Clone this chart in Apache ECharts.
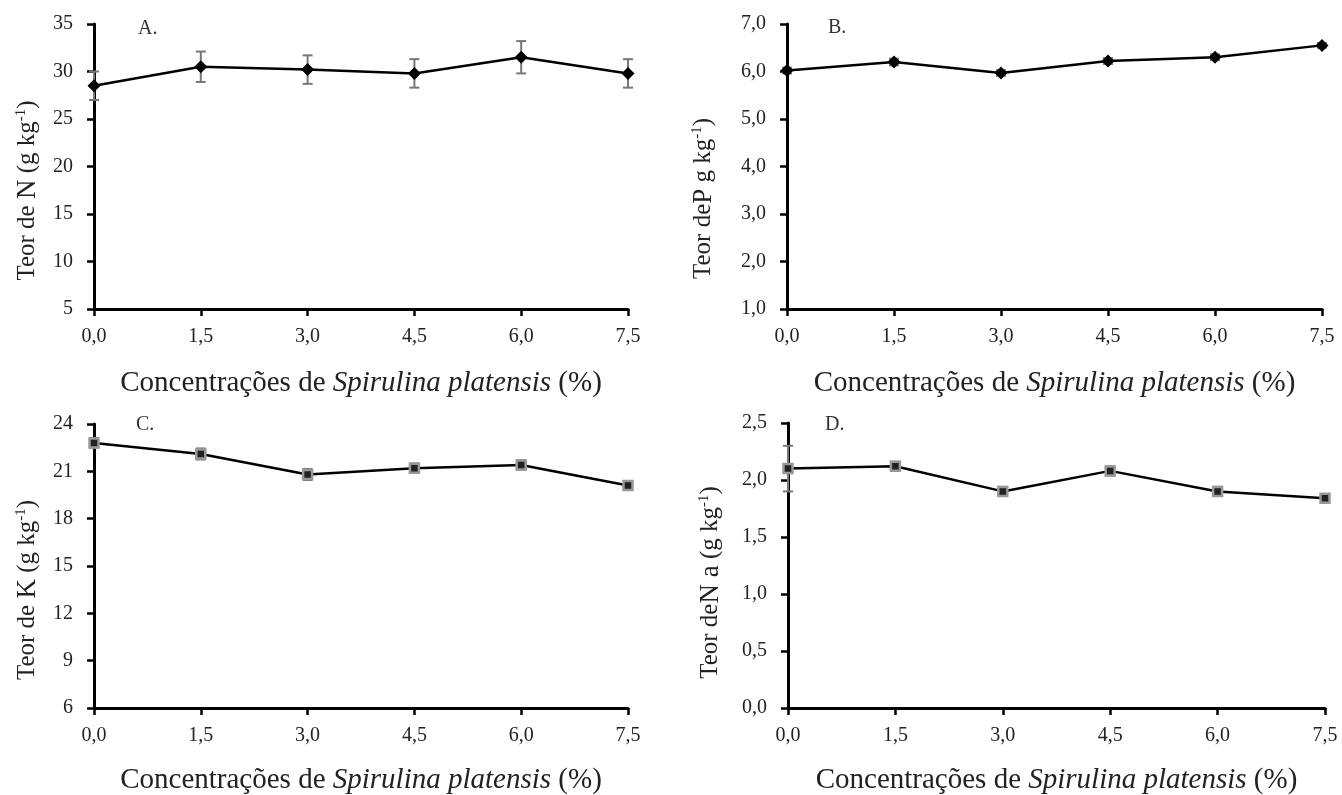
<!DOCTYPE html>
<html>
<head>
<meta charset="utf-8">
<script src="https://cdn.jsdelivr.net/npm/echarts@6/dist/echarts.min.js"></script>
<style>
  html, body { margin: 0; padding: 0; background: #fff; }
  #chart { width: 1342px; height: 795px; }
</style>
</head>
<body>
<div id="chart"></div>
<script>
// concentrações de Spirulina platensis (%)
const doses = [0, 1.5, 3.0, 4.5, 6.0, 7.5];

// teores (g kg-1)
const teorN = [28.5, 30.5, 30.2, 29.8, 31.5, 29.8];
const erroN = [1.5, 1.6, 1.5, 1.5, 1.7, 1.5];
const teorP = [6.02, 6.2, 5.97, 6.22, 6.3, 6.55];
const erroP = [0.06, 0.07, 0.06, 0.06, 0.06, 0.05];
const teorK = [22.8, 22.1, 20.8, 21.2, 21.4, 20.1];
const erroK = [0.3, 0.35, 0.35, 0.3, 0.3, 0.2];
const teorNa = [2.1, 2.12, 1.9, 2.08, 1.9, 1.84];
const erroNa = [0.2, 0.04, 0.04, 0.04, 0.04, 0.03];

const letras = ['A.', 'B.', 'C.', 'D.'];

const fonte = 'Liberation Serif, Times New Roman, serif';
const corTexto = '#222';

const chart = echarts.init(document.getElementById('chart'));

const virgula = (v) => v.toFixed(1).replace('.', ',');

// posição de cada painel (sem reajuste automático do v6)
const grids = [
  { left: 94, top: 24, width: 534, height: 285, outerBoundsMode: 'none' },
  { left: 787, top: 24, width: 535, height: 285, outerBoundsMode: 'none' },
  { left: 94, top: 424, width: 534, height: 284, outerBoundsMode: 'none' },
  { left: 788, top: 423, width: 537, height: 285, outerBoundsMode: 'none' },
];

const eixoY = [
  { min: 5, max: 35, interval: 5, fmt: (v) => String(v), nome: ['Teor de ', 'N', ' (g kg', ')'], gap: 53, desloc: 48 },
  { min: 1, max: 7, interval: 1, fmt: virgula, nome: ['Teor de', 'P', ' g kg', ')'], gap: 70, desloc: 64 },
  { min: 6, max: 24, interval: 3, fmt: (v) => String(v), nome: ['Teor de ', 'K', ' (g kg', ')'], gap: 53, desloc: 48 },
  { min: 0, max: 2.5, interval: 0.5, fmt: virgula, nome: ['Teor de', 'N a', ' (g kg', ')'], gap: 64, desloc: 34 },
];

const valores = [teorN, teorP, teorK, teorNa];
const erros = [erroN, erroP, erroK, erroNa];

const nomeX = '{n|Concentrações de }{i|Spirulina platensis}{n| (%)}';
const richX = {
  n: { fontFamily: fonte, fontSize: 29, color: corTexto },
  i: { fontFamily: fonte, fontSize: 29, color: corTexto, fontStyle: 'italic' },
};
const richY = {
  t: { fontFamily: fonte, fontSize: 25, color: corTexto },
  b: { fontFamily: fonte, fontSize: 27, color: corTexto },
  s: { fontFamily: fonte, fontSize: 15, color: corTexto, verticalAlign: 'top' },
};

const eixoLinha = { lineStyle: { color: '#000', width: 3 } };
const eixoTick = { show: true, length: 7, lineStyle: { color: '#000', width: 2.5 } };

const xAxis = grids.map((g, i) => ({
  type: 'value',
  gridIndex: i,
  min: 0,
  max: 7.5,
  interval: 1.5,
  axisLine: eixoLinha,
  axisTick: eixoTick,
  splitLine: { show: false },
  axisLabel: { formatter: virgula, fontFamily: fonte, fontSize: 20, color: corTexto, margin: 18 },
  name: nomeX,
  nameLocation: 'middle',
  nameGap: i < 2 ? 60 : 58,
  nameTextStyle: { rich: richX },
}));

const yAxis = eixoY.map((e, i) => ({
  type: 'value',
  gridIndex: i,
  min: e.min,
  max: e.max,
  interval: e.interval,
  axisLine: eixoLinha,
  axisTick: eixoTick,
  splitLine: { show: false },
  axisLabel: { formatter: e.fmt, fontFamily: fonte, fontSize: 20, color: corTexto, margin: 21 },
  name: '{t|' + e.nome[0] + '}{b|' + e.nome[1] + '}{t|' + e.nome[2] + '}{s|-1}{t|' + e.nome[3] + '}',
  nameLocation: 'middle',
  nameGap: e.gap,
  nameTextStyle: { rich: richY, padding: [0, e.desloc, 0, 0] },
}));

// barras de erro desenhadas com série custom
function barraErro(erro) {
  return function (params, api) {
    const x = api.value(0);
    const y = api.value(1);
    const e = erro[params.dataIndex];
    const topo = api.coord([x, y + e]);
    const base = api.coord([x, y - e]);
    const w = 5;
    const estilo = { stroke: '#777', lineWidth: 2 };
    return {
      type: 'group',
      children: [
        { type: 'line', shape: { x1: topo[0], y1: topo[1], x2: base[0], y2: base[1] }, style: estilo },
        { type: 'line', shape: { x1: topo[0] - w, y1: topo[1], x2: topo[0] + w, y2: topo[1] }, style: estilo },
        { type: 'line', shape: { x1: base[0] - w, y1: base[1], x2: base[0] + w, y2: base[1] }, style: estilo },
      ],
    };
  };
}

const series = [];
valores.forEach((vals, i) => {
  const dados = doses.map((d, j) => [d, vals[j]]);
  series.push({
    type: 'custom',
    xAxisIndex: i,
    yAxisIndex: i,
    renderItem: barraErro(erros[i]),
    data: dados,
    z: 1,
  });
  const cinza = i >= 2;
  series.push({
    type: 'line',
    xAxisIndex: i,
    yAxisIndex: i,
    data: dados,
    symbol: cinza ? 'rect' : 'diamond',
    symbolSize: cinza ? 9 : 13,
    itemStyle: cinza
      ? { color: '#222', borderColor: '#999', borderWidth: 2.5 }
      : { color: '#000' },
    lineStyle: { color: '#000', width: 2.5 },
    z: 2,
  });
});

const option = {
  backgroundColor: '#fff',
  animation: false,
  title: letras.map((l, i) => ({
    text: l,
    left: [133, 823, 131, 820][i],
    top: [14, 13, 410, 410][i],
    textStyle: { fontFamily: fonte, fontSize: 20, fontWeight: 'normal', color: '#333' },
  })),
  grid: grids,
  xAxis: xAxis,
  yAxis: yAxis,
  series: series,
};

chart.setOption(option);
</script>
</body>
</html>
